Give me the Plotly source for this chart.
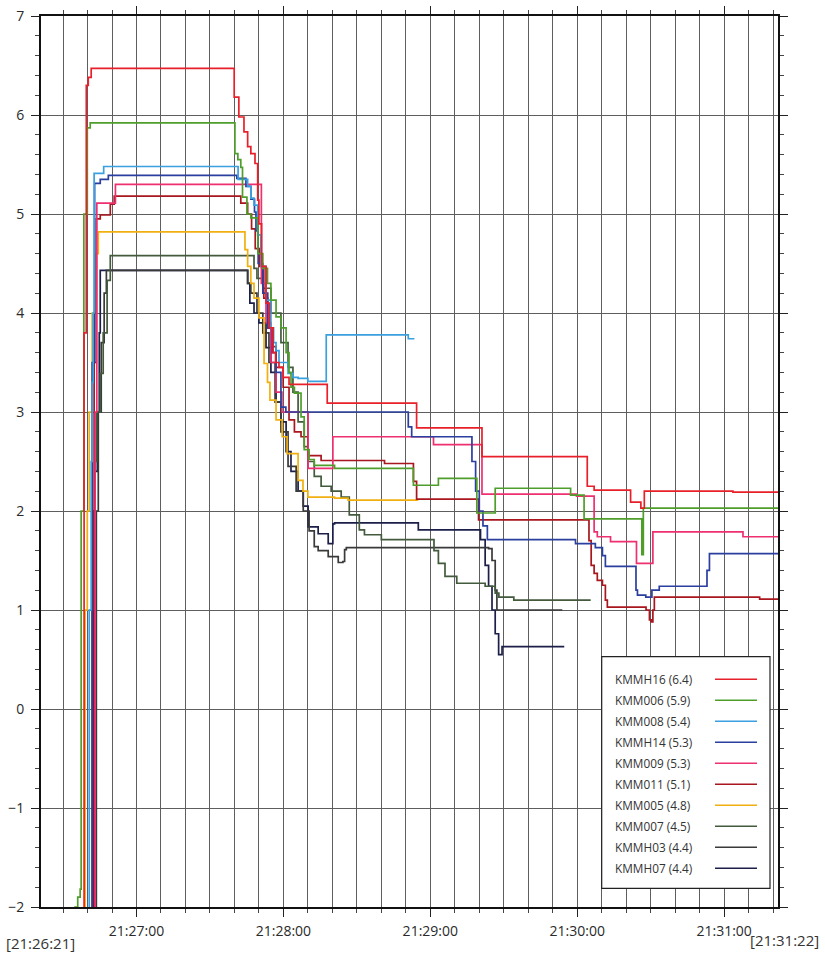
import pandas as pd
import plotly.graph_objects as go

# ---------------- data (seconds after 21:26:00, value) ----------------
BASE = pd.Timestamp("2024-01-01 21:26:00")

names = ["KMMH16 (6.4)", "KMM006 (5.9)", "KMM008 (5.4)", "KMMH14 (5.3)", "KMM009 (5.3)",
         "KMM011 (5.1)", "KMM005 (4.8)", "KMM007 (4.5)", "KMMH03 (4.4)", "KMMH07 (4.4)"]
colors = ["#e8202a", "#4f9e2c", "#3aa0e0", "#2b3f9e", "#ee3070",
          "#a8161e", "#f0b010", "#435a3c", "#3a3a3a", "#1c1f4a"]

KMMH16 = [(21, -2.5), (38.6, 3.8), (39.5, 6.3), (40.3, 6.38), (41.5, 6.47), (99.9, 6.18), (101.8, 5.98),
          (103.9, 5.83), (105.4, 5.68), (106.7, 5.61), (108.4, 5.51), (109.5, 5.14), (110.0, 4.9),
          (111.1, 4.47), (112.9, 4.1), (114.3, 3.85), (115.8, 3.6), (116.8, 3.5), (118.2, 3.45),
          (119.9, 3.35), (122.3, 3.28), (137.9, 3.09), (174.4, 2.84), (201.1, 2.55), (244.1, 2.25),
          (246.9, 2.21), (261.8, 2.09), (266.0, 2.03), (267.4, 2.20), (303.6, 2.19), (322.1, 2.19)]
KMM006 = [(21, -2.5), (34.9, -2.0), (36.0, -1.9), (37.0, -1.82), (37.4, 2.0), (38.5, 5.0), (39.9, 5.87),
          (41.1, 5.92), (100.2, 5.61), (101.4, 5.55), (102.6, 5.47), (103.3, 5.17), (105.1, 5.0),
          (106.7, 4.96), (109.6, 4.6), (111.6, 4.45), (113.5, 4.3), (114.9, 4.13), (117.0, 3.96),
          (119.0, 3.85), (121.1, 3.6), (122.3, 3.4), (123.1, 3.25), (124.5, 3.19), (127.2, 2.95),
          (128.5, 2.62), (130.5, 2.52), (132.6, 2.46), (140.9, 2.43), (173.1, 2.26), (183.3, 2.33),
          (199.0, 1.98), (206.5, 2.23), (237.3, 2.16), (242.8, 1.92), (266.4, 1.56), (267.0, 2.03),
          (322.8, 2.03)]
KMM008 = [(21, -2.5), (40.7, 1.0), (41.5, 2.5), (41.9, 3.3), (42.3, 4.0), (42.7, 5.41), (46.6, 5.48),
          (101.5, 5.35), (105.4, 5.28), (106.7, 5.16), (108.0, 5.09), (109.5, 4.79), (110.8, 4.47),
          (112.9, 4.13), (114.9, 3.85), (116.0, 3.7), (117.0, 3.62), (118.2, 3.5), (121.9, 3.39),
          (123.9, 3.35), (126.0, 3.34), (130.0, 3.31), (137.5, 3.78), (171.0, 3.74), (173.5, 3.74)]
KMMH14 = [(21, -2.5), (41.9, 3.5), (42.9, 5.31), (45.2, 5.35), (48.5, 5.39), (101.0, 5.36), (104.7, 5.28),
          (106.7, 5.15), (108.2, 5.02), (108.8, 4.83), (109.7, 4.5), (111.6, 4.2), (113.6, 3.85),
          (115.5, 3.6), (117.0, 3.4), (119.0, 3.05), (121.0, 3.0), (171.0, 2.85), (172.4, 2.75),
          (197.0, 2.5), (198.5, 2.2), (200.0, 2.0), (201.5, 1.85), (203.3, 1.71), (239.3, 1.67),
          (247.4, 1.63), (250.3, 1.55), (251.5, 1.44), (264.0, 1.2), (264.6, 1.15), (268.0, 1.13),
          (270.5, 1.2), (273.5, 1.24), (293.0, 1.4), (294.0, 1.57), (323.4, 1.57)]
KMM009 = [(21, -2.5), (43.1, 3.0), (43.8, 5.11), (51.4, 5.30), (111.0, 4.3), (112.9, 3.9), (114.9, 3.5),
          (117.0, 3.2), (119.4, 3.0), (130.1, 2.43), (140.2, 2.75), (181.3, 2.67), (201.1, 2.17),
          (239.7, 2.15), (246.9, 1.79), (248.2, 1.74), (253.6, 1.69), (264.2, 1.47), (270.9, 1.79),
          (307.7, 1.74), (323.4, 1.74)]
KMM011 = [(21, -2.5), (42.7, 3.5), (43.6, 4.95), (45.2, 4.99), (49.3, 5.10), (50.9, 5.18), (102.6, 5.11),
          (105.4, 5.0), (107.0, 4.85), (108.5, 4.65), (110.2, 4.47), (112.0, 4.15), (113.6, 3.85),
          (114.9, 3.66), (117.0, 3.45), (119.9, 3.25), (122.3, 2.92), (124.5, 2.8), (127.2, 2.75),
          (130.0, 2.56), (135.4, 2.51), (161.3, 2.48), (173.1, 2.3), (174.4, 2.12), (199.7, 1.91),
          (244.8, 1.7), (245.7, 1.45), (246.9, 1.37), (248.2, 1.3), (250.3, 1.25), (251.5, 1.1),
          (252.3, 1.03), (268.1, 1.0), (269.5, 0.9), (270.2, 0.88), (270.9, 1.0), (271.5, 1.13),
          (314.5, 1.11), (323.4, 1.11)]
KMM005 = [(21, -2.5), (39.0, 1.0), (39.9, 2.0), (40.7, 3.0), (41.9, 4.0), (43.6, 4.6), (44.4, 4.82),
          (104.3, 4.64), (105.4, 4.47), (106.7, 4.3), (108.0, 4.15), (110.0, 3.95), (112.1, 3.49),
          (113.5, 3.3), (114.5, 3.12), (117.0, 2.92), (119.5, 2.75), (121.5, 2.58), (126.0, 2.31),
          (128.0, 2.2), (130.0, 2.14), (140.9, 2.13), (146.4, 2.11), (175.1, 2.11)]
KMM007 = [(21, -2.5), (41.9, 1.0), (42.5, 2.0), (43.1, 2.5), (43.8, 3.0), (45.2, 3.39), (46.4, 3.8),
          (48.0, 4.33), (49.3, 4.58), (108.0, 4.45), (109.2, 4.35), (111.6, 4.25), (114.9, 4.0),
          (119.0, 3.7), (121.9, 3.45), (123.9, 3.2), (126.0, 2.9), (128.5, 2.65), (130.1, 2.5),
          (132.6, 2.35), (135.4, 2.25), (139.5, 2.2), (143.6, 2.14), (146.9, 1.96), (151.0, 1.81),
          (153.1, 1.76), (160.0, 1.71), (181.5, 1.6), (183.3, 1.47), (186.0, 1.34), (190.8, 1.27),
          (202.4, 1.24), (206.5, 1.17), (208.0, 1.13), (214.1, 1.10), (245.5, 1.10)]
KMMH03 = [(21, -2.5), (43.6, 2.0), (44.4, 3.0), (45.6, 3.7), (46.8, 4.2), (47.7, 4.43), (105.4, 4.3),
          (106.7, 4.2), (109.2, 4.0), (111.6, 3.8), (114.1, 3.5), (116.6, 3.1), (119.0, 2.8),
          (121.9, 2.45), (125.2, 2.2), (128.1, 2.0), (130.5, 1.8), (132.6, 1.64), (134.2, 1.6),
          (138.3, 1.54), (142.4, 1.48), (144.3, 1.49), (145.0, 1.61), (145.7, 1.63), (203.8, 1.62),
          (205.2, 1.5), (206.5, 1.2), (207.2, 1.0), (233.9, 1.0)]
KMMH07 = [(21, -2.5), (42.3, 2.0), (43.1, 2.4), (44.0, 3.0), (44.8, 3.8), (45.2, 4.43), (105.4, 4.3),
          (106.3, 4.1), (108.0, 4.0), (110.0, 3.9), (112.9, 3.65), (114.9, 3.4), (117.0, 3.1),
          (119.0, 2.9), (121.1, 2.6), (123.1, 2.4), (126.0, 2.2), (128.1, 2.05), (130.1, 1.84),
          (134.2, 1.77), (138.3, 1.67), (140.2, 1.87), (140.9, 1.88), (175.1, 1.81), (200.5, 1.71),
          (202.4, 1.45), (203.8, 1.24), (205.2, 1.0), (206.5, 0.76), (207.9, 0.55), (209.3, 0.63),
          (234.7, 0.63)]

series = [KMMH16, KMM006, KMM008, KMMH14, KMM009, KMM011, KMM005, KMM007, KMMH03, KMMH07]

x_start, x_end = 21, 322          # 21:26:21 .. 21:31:22
y_min, y_max = -2, 7

# ---------------- figure ----------------
W, H = 825, 953
L, R, T, B = 41, 778, 16, 907     # plot area in pixels


def xp(px):
    return (px - L) / (R - L)


def yp(py):
    return (B - py) / (B - T)


def ts(s):
    return BASE + pd.Timedelta(seconds=s)


fig = go.Figure()
for name, col, pts in reversed(list(zip(names, colors, series))):
    fig.add_trace(go.Scatter(
        x=[ts(p[0]) for p in pts], y=[p[1] for p in pts],
        mode="lines", line=dict(color=col, width=1.7, shape="hv"),
        name=name, showlegend=False, hoverinfo="skip"))

grid_col = "#5e5e5e"
font_family = "Open Sans, Lato, Arial, sans-serif"

fig.update_layout(
    width=W, height=H,
    margin=dict(l=L, r=W - R, t=T, b=H - B, autoexpand=False),
    paper_bgcolor="white", plot_bgcolor="white",
    font=dict(family=font_family, color="#2a2a2a", size=14),
    xaxis=dict(
        type="date", range=[ts(x_start), ts(x_end)], automargin=False,
        tick0=ts(60), dtick=60000, tickformat="%H:%M:%S",
        ticks="outside", ticklen=8, tickwidth=1.2, tickcolor="#222",
        showgrid=True, gridcolor=grid_col, gridwidth=1.1,
        showline=True, linecolor="#111", linewidth=2, mirror="allticks",
        zeroline=False, ticklabelstandoff=2,
        tickfont=dict(size=14),
        minor=dict(dtick=10000, tick0=ts(60), ticks="outside", ticklen=4,
                   tickcolor="#444", showgrid=True, gridcolor=grid_col, gridwidth=1.1),
    ),
    yaxis=dict(
        range=[y_min, y_max], dtick=1, tick0=0, automargin=False,
        ticks="outside", ticklen=8, tickwidth=1.2, tickcolor="#222",
        showgrid=True, gridcolor=grid_col, gridwidth=1.1,
        showline=True, linecolor="#111", linewidth=2, mirror="allticks",
        zeroline=False, ticklabelstandoff=4,
        tickfont=dict(size=14),
        minor=dict(dtick=0.2, tick0=0, ticks="outside", ticklen=4,
                   tickcolor="#444", showgrid=False),
    ),
    yaxis2=dict(
        range=[y_min, y_max], dtick=0.5, tick0=0, overlaying="y", side="left",
        automargin=False,
        showgrid=True, gridcolor=grid_col, gridwidth=1.1, showticklabels=False,
        ticks="", showline=False, zeroline=False, layer="below traces",
    ),
)

# ---------------- custom legend (text left, sample right) ----------------
box = dict(x0=601.7, x1=770, y0=656.7, y1=888.3)
fig.add_shape(type="rect", xref="paper", yref="paper",
              x0=xp(box["x0"]), x1=xp(box["x1"]), y0=yp(box["y1"]), y1=yp(box["y0"]),
              line=dict(color="#222", width=1.2), fillcolor="white", layer="above")
row0, row_step = 679.3, 21.0
for i, (name, col) in enumerate(zip(names, colors)):
    yy = row0 + i * row_step
    fig.add_annotation(xref="paper", yref="paper", x=xp(613), y=yp(yy), text=name,
                       showarrow=False, xanchor="left", yanchor="middle",
                       font=dict(size=11.8, color="#333"))
    fig.add_shape(type="line", xref="paper", yref="paper",
                  x0=xp(715), x1=xp(757), y0=yp(yy), y1=yp(yy),
                  line=dict(color=col, width=1.6), layer="above")

# ---------------- range labels under the axis ----------------
fig.add_annotation(xref="paper", yref="paper", x=xp(4), y=yp(943), text="[21:26:21]",
                   showarrow=False, xanchor="left", yanchor="middle", font=dict(size=15, color="#333"))
fig.add_annotation(xref="paper", yref="paper", x=xp(821), y=yp(940), text="[21:31:22]",
                   showarrow=False, xanchor="right", yanchor="middle", font=dict(size=15, color="#333"))

fig.write_html("out.html")
